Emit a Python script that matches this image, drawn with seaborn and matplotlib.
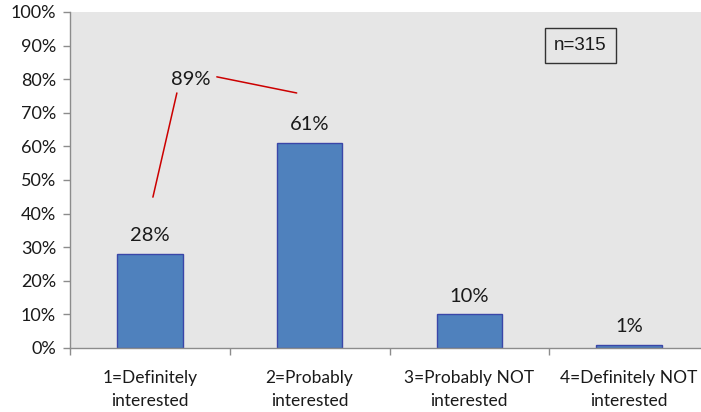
import matplotlib
matplotlib.use("Agg")
import matplotlib.pyplot as plt
import seaborn as sns
import pandas as pd
from matplotlib.ticker import PercentFormatter, FixedLocator

categories = ["1=Definitely\ninterested", "2=Probably\ninterested",
              "3=Probably NOT\ninterested", "4=Definitely NOT\ninterested"]
values = [0.28, 0.61, 0.10, 0.01]
value_labels = ["28%", "61%", "10%", "1%"]
combined_label = "89%"
n_label = "n=315"

sns.set_theme(style="white")
plt.rcParams["font.family"] = ["Lato", "DejaVu Sans"]

W, H = 701, 412
fig = plt.figure(figsize=(W / 100, H / 100), dpi=100)
ax = fig.add_axes([70 / W, (H - 348) / H, (709 - 70) / W, (348 - 12) / H])
ax.set_facecolor("#E6E6E6")

df = pd.DataFrame({"cat": categories, "val": values})
sns.barplot(data=df, x="cat", y="val", color="#4F81BD", width=0.41,
            edgecolor="#3A46A8", linewidth=1.0, saturation=1, ax=ax)

ax.set_xlim(-0.5, 3.5)
ax.set_ylim(0, 1)
ax.yaxis.set_major_locator(FixedLocator([i / 10 for i in range(11)]))
ax.yaxis.set_major_formatter(PercentFormatter(1.0, decimals=0))
ax.set_xlabel("")
ax.set_ylabel("")

for s in ["top", "right"]:
    ax.spines[s].set_visible(False)
for s in ["left", "bottom"]:
    ax.spines[s].set_color("#8C8C8C")
    ax.spines[s].set_linewidth(1.0)

ax.tick_params(axis="y", which="major", left=True, length=5, width=1,
               color="#8C8C8C", labelsize=13, pad=5, labelcolor="#1a1a1a")
ax.tick_params(axis="x", which="major", bottom=False, length=0,
               labelsize=12.5, pad=16, labelcolor="#1a1a1a")
ax.set_xticks([-0.5, 0.5, 1.5, 2.5, 3.5], minor=True)
ax.tick_params(axis="x", which="minor", bottom=True, length=5, width=1,
               color="#8C8C8C")
for lbl in ax.get_xticklabels():
    lbl.set_linespacing(1.55)

for i, (v, t) in enumerate(zip(values, value_labels)):
    ax.annotate(t, (i, v), xytext=(0, 7), textcoords="offset points",
                ha="center", va="bottom", fontsize=14.5, color="#1a1a1a")

# bracket annotation combining first two categories
ax.plot([0.019, 0.169], [0.449, 0.759], color="#CC0000", lw=1.1)
ax.plot([0.419, 0.919], [0.807, 0.759], color="#CC0000", lw=1.1)
ax.text(0.256, 0.798, combined_label, ha="center", va="center",
        fontsize=14.5, color="#1a1a1a")

# n box
ax.text((581 - 150) / 160, (348 - 45.5) / 336, n_label, ha="center", va="center",
        fontsize=13.5, family=["Liberation Sans", "DejaVu Sans"], color="#1a1a1a",
        bbox=dict(boxstyle="square,pad=0.5", fc="#E6E6E6", ec="#333333", lw=1.0))

fig.savefig("out.png", dpi=100)
